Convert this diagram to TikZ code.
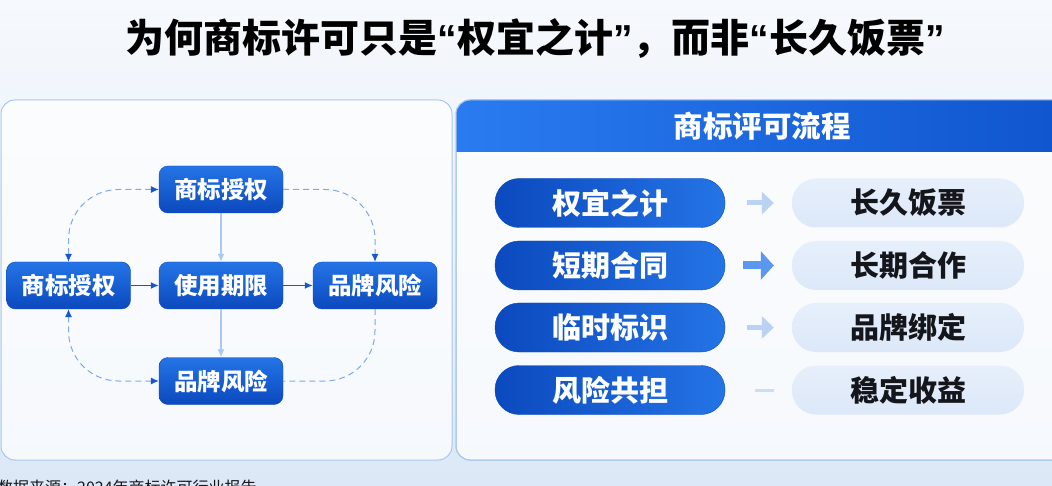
\documentclass[tikz,border=0pt]{standalone}
\usepackage{fontspec}
\setmainfont{Noto Sans CJK SC}
\newfontfamily\quotefont{Liberation Sans}
\usetikzlibrary{arrows.meta}

\definecolor{deep}{HTML}{1557D2}
\definecolor{boxtop}{HTML}{2474E6}
\definecolor{boxbot}{HTML}{0B49BE}
\definecolor{softfill}{HTML}{DCE8F9}
\definecolor{hdrL}{HTML}{2A7BF0}
\definecolor{hdrR}{HTML}{0F55CE}
\definecolor{dashcol}{HTML}{7FA9E8}
\definecolor{lightarr}{HTML}{A9C8F2}
\definecolor{panelline}{HTML}{A8C7F1}
\definecolor{bgtop}{HTML}{F6F9FD}
\definecolor{bgbot}{HTML}{DCE8F7}
\definecolor{ink}{HTML}{15161C}

\newcommand{\openq}{{\quotefont\bfseries “}}
\newcommand{\closeq}{{\quotefont\bfseries ”}}

\begin{document}
\begin{tikzpicture}
		[
			x=1pt, y=-1pt,
			box/.style={rounded corners=9pt, minimum width=124pt, minimum height=47pt, inner sep=0pt,
				top color=boxtop, bottom color=boxbot, draw=boxbot, text=white,
				font=\bfseries\fontsize{23.5}{23.5}\selectfont},
			pill/.style={rounded corners=24pt, minimum width=230pt, minimum height=49pt, inner sep=0pt,
				left color=boxbot, right color=boxtop, draw=boxbot, text=white,
				font=\bfseries\fontsize{29}{29}\selectfont},
			softpill/.style={rounded corners=24pt, minimum width=232pt, minimum height=49pt, inner sep=0pt,
				top color=softfill!70, bottom color=softfill, text=ink,
				font=\bfseries\fontsize{29}{29}\selectfont},
			panel/.style={draw=panelline, line width=1pt, rounded corners=14pt, fill=white, fill opacity=0.75},
			strong/.style={draw=deep, line width=1.2pt, -{Latex[length=8pt, width=7pt]}},
			soft/.style={draw=lightarr, line width=1.2pt, -{Latex[length=8pt, width=7pt]}},
			dashlink/.style={draw=dashcol, line width=1pt, dash pattern=on 6pt off 4pt, rounded corners=50pt},
			tipdeep/.tip={Latex[length=8pt, width=7pt, color=deep]},
		]

		\useasboundingbox (0,0) rectangle (1052,486);
		\shade[top color=bgtop, bottom color=bgbot] (0,0) rectangle (1052,486);

		% Title
		\node (title) at (535,39) {\bfseries\fontsize{39}{39}\selectfont 为何商标许可只是\openq 权宜之计\closeq ，而非\openq 长久饭票\closeq};

		% Panels
		\draw[panel] (1,100) rectangle (452,460);
		\draw[panel] (456,100) rectangle (1070,460);
		\begin{scope}
			\clip[rounded corners=14pt] (456,100) rectangle (1070,460);
			\shade[left color=hdrL, right color=hdrR] (456,100) rectangle (1070,152);
		\end{scope}
		\draw[draw=panelline, line width=1pt, rounded corners=14pt] (456,100) rectangle (1070,460);
		\node[text=white, font=\bfseries\fontsize{29.5}{29.5}\selectfont] (hdr) at (762,126) {商标评可流程};

		% Nodes
		\foreach \name/\x/\y/\txt in
		{
			lic/221/189.5/商标授权,
			auth/68.5/285.5/商标授权,
			term/221/285.5/使用期限,
			riskR/375/285.5/品牌风险,
			riskB/221/381/品牌风险
		}
			\node[box] (\name) at (\x,\y) {\txt};

		\foreach \i/\y/\a/\b in
		{
			1/203/权宜之计/长久饭票,
			2/265.5/短期合同/长期合作,
			3/327.5/临时标识/品牌绑定,
			4/390/风险共担/稳定收益
		}
		{
			\node[pill] (s\i) at (610,\y) {\a};
			\node[softpill] (l\i) at (908,\y) {\b};
		}

		% Edges
		\draw[strong] (auth) -- (term);
		\draw[strong] (term) -- (riskR);
		\draw[soft] (lic) -- (term);
		\draw[soft] (term) -- (riskB);
		\draw[dashlink, {tipdeep}-{tipdeep}] (lic.west) -| (auth.north);
		\draw[dashlink, -{tipdeep}] (lic.east) -| (riskR.north);
		\draw[dashlink, {tipdeep}-{tipdeep}] (riskB.west) -| (auth.south);
		\draw[dashlink] (riskR.south) |- (riskB.east);

		\draw[lightarr!80, line width=5pt, shorten <=22pt, shorten >=18pt, -{Triangle[length=12pt, width=22pt]}] (s1) -- (l1);
		\draw[boxtop!75, line width=8pt, shorten <=18pt, shorten >=18pt, -{Triangle[length=13pt, width=28pt]}] (s2) -- (l2);
		\draw[lightarr!80, line width=5pt, shorten <=22pt, shorten >=18pt, -{Triangle[length=12pt, width=22pt]}] (s3) -- (l3);
		\draw[lightarr!60, line width=3pt, shorten <=30pt, shorten >=18pt] (s4) -- (l4);

		% Source line
		\node[anchor=north west, inner sep=0pt, text=ink, font=\fontsize{16}{16}\selectfont] (src) at (-3,480) {数据来源：2024年商标许可行业报告};

		\end{tikzpicture}
\end{document}
